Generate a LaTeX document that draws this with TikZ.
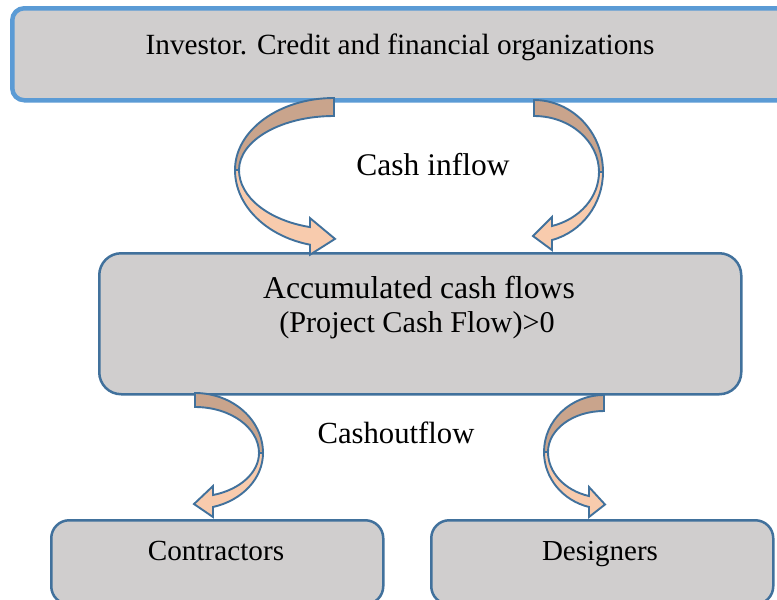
\documentclass[tikz,border=0pt]{standalone}
\usepackage{fontspec}
\setmainfont{Liberation Serif}
\definecolor{boxfill}{HTML}{D0CECE}
\definecolor{boxline}{HTML}{41719C}
\definecolor{topline}{HTML}{5B9BD5}
\definecolor{backcol}{HTML}{C9A48C}
\definecolor{frontcol}{HTML}{F8CBAD}
\tikzset{
  box/.style={draw=boxline, line width=2.5pt, fill=boxfill, rounded corners=22pt, anchor=north west, inner sep=0pt},
  topbox/.style={draw=topline, line width=4.5pt, fill=boxfill, rounded corners=12pt, anchor=north west, inner sep=0pt},
  lbl/.style={anchor=base, inner sep=0pt, text=black},
  arrowline/.style={draw=boxline, line width=1.9pt, line join=miter}
}
% #1 cx, #2 cy, #3 dir, #4 R, #5 T, #6 t, #7 Bo, #8 Bi, #9 hb
\newcommand\curvarrow[9]{%
  \pgfmathsetmacro\rI{#4-4}%
  \pgfmathsetmacro\aO{180+acos(#9/#4)}%
  \pgfmathsetmacro\aI{180+acos(#9/\rI)}%
  \pgfmathsetmacro\yO{-#7*sin(acos(#9/#4))}%
  \pgfmathsetmacro\yI{-#8*sin(acos(#9/\rI))}%
  \pgfmathsetmacro\tipY{(\yO+\yI)/2-3}%
  \begin{scope}[shift={(#1,#2)}, xscale=#3, yscale=-1]
    \draw[arrowline, fill=backcol] (0,#5) arc[start angle=90, end angle=180, x radius=#4, y radius=#5]
      -- (-\rI,0) arc[start angle=180, end angle=90, x radius=\rI, y radius=#6] -- cycle;
    \draw[arrowline, fill=frontcol] (-#4,0) arc[start angle=180, end angle=\aO, x radius=#4, y radius=#7]
      -- (-#9,\yO-10) -- (1,\tipY) -- (-#9,\yI+9) -- (-#9,\yI)
      arc[start angle=\aI, end angle=180, x radius=\rI, y radius=#8] -- cycle;
  \end{scope}%
}
\begin{document}
\begin{tikzpicture}[x=1pt, y=-1pt]
  \useasboundingbox (0,0) rectangle (777,600);
  \fill[white] (0,0) rectangle (777,600);
  % boxes
  \node[topbox, minimum width=800pt, minimum height=92pt] (top) at (10,6) {};
  \node[box, minimum width=642pt, minimum height=141pt] (mid) at (98,252) {};
  \node[box, rounded corners=18pt, minimum width=332pt, minimum height=84pt] (contr) at (50,519) {};
  \node[box, rounded corners=18pt, minimum width=342pt, minimum height=84pt] (design) at (430,519) {};
  % curved arrows
  \curvarrow{334}{170}{1}{99}{72}{54}{77}{59}{24}
  \curvarrow{534}{172}{-1}{69}{72}{56}{70.5}{56.2}{18}
  \curvarrow{195}{453}{-1}{68}{60}{46}{56}{43.8}{18}
  \curvarrow{604}{452}{1}{60}{57}{41}{56.8}{45.7}{15}
  % texts
  \node[lbl, font=\fontsize{29.3}{34}\selectfont] (tinv) at (400,54) {Investor. Credit and financial organizations};
  \node[lbl, font=\fontsize{31.5}{36}\selectfont] (tin) at (433,175) {Cash inflow};
  \node[lbl, font=\fontsize{31.7}{36}\selectfont] (tacc) at (419,298) {Accumulated cash flows};
  \node[lbl, font=\fontsize{30.2}{34}\selectfont] (tpcf) at (417,332) {(Project Cash Flow)>0};
  \node[lbl, font=\fontsize{30.7}{34}\selectfont] (tout) at (396,443) {Cashoutflow};
  \node[lbl, font=\fontsize{29.2}{34}\selectfont] (tcon) at (216,560) {Contractors};
  \node[lbl, font=\fontsize{29}{34}\selectfont] (tdes) at (600,560) {Designers};
\end{tikzpicture}
\end{document}
